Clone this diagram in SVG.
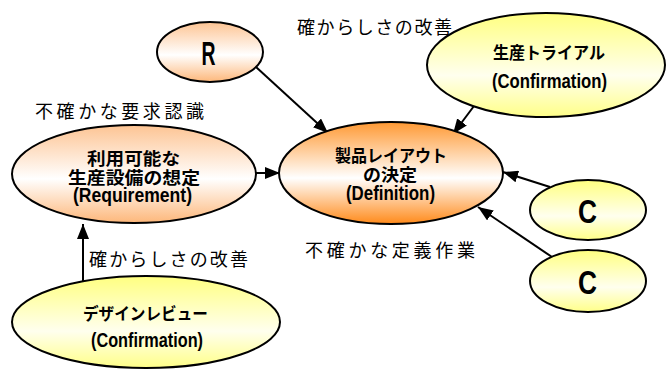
<svg xmlns="http://www.w3.org/2000/svg" width="667" height="369" viewBox="0 0 667 369">
<defs>
<linearGradient id="gOr" x1="0" y1="0" x2="0" y2="1">
<stop offset="0" stop-color="#fdc493"/>
<stop offset="0.55" stop-color="#ffffff"/>
<stop offset="1" stop-color="#fdb77a"/>
</linearGradient>
<linearGradient id="gOrS" x1="0" y1="0" x2="0" y2="1">
<stop offset="0" stop-color="#ff9933"/>
<stop offset="0.55" stop-color="#ffffff"/>
<stop offset="1" stop-color="#ff8a1a"/>
</linearGradient>
<linearGradient id="gYe" x1="0" y1="0" x2="0" y2="1">
<stop offset="0" stop-color="#ffff80"/>
<stop offset="0.6" stop-color="#ffffee"/>
<stop offset="1" stop-color="#ffff88"/>
</linearGradient>
<marker id="ah" markerUnits="userSpaceOnUse" markerWidth="15" markerHeight="12" refX="15" refY="6" orient="auto">
<path d="M0,0 L15,6 L0,12 z" fill="#000"/>
</marker>
<style>
ellipse{stroke:#000;stroke-width:2}
.n{font-family:"Noto Sans CJK JP","Liberation Sans",sans-serif;font-weight:bold;font-size:17px;fill:#000;text-anchor:middle}
.l{font-family:"Liberation Sans","Noto Sans CJK JP",sans-serif;font-weight:bold;font-size:20px;fill:#000;text-anchor:middle}
.big{font-family:"Liberation Sans",sans-serif;font-weight:bold;font-size:34px;fill:#000;text-anchor:middle}
.lab{font-family:"Noto Sans CJK JP",sans-serif;font-size:18px;fill:#000}
#edges line{stroke:#000;stroke-width:2;marker-end:url(#ah)}
</style>
</defs>

<g id="edges">
<line x1="256" y1="67" x2="328" y2="133"/>
<line x1="474" y1="106" x2="453" y2="134"/>
<line x1="256" y1="173" x2="280" y2="173"/>
<line x1="550" y1="187" x2="503" y2="172"/>
<line x1="552" y1="257" x2="478" y2="207"/>
<line x1="83" y1="281" x2="83" y2="224"/>
</g>

<g id="node-R">
<ellipse cx="210" cy="52" rx="53" ry="30" fill="url(#gOr)"/>
<text class="big" x="208.5" y="65" textLength="14" lengthAdjust="spacingAndGlyphs">R</text>
</g>

<g id="node-trial">
<ellipse cx="546" cy="65" rx="119" ry="52" fill="url(#gYe)"/>
<text class="n" x="549" y="59" textLength="112" lengthAdjust="spacingAndGlyphs">生産トライアル</text>
<text class="l" x="549.5" y="88" textLength="115" lengthAdjust="spacingAndGlyphs">(Confirmation)</text>
</g>

<g id="node-req">
<ellipse cx="134" cy="174" rx="122" ry="49" fill="url(#gOr)"/>
<text class="n" x="133.5" y="165" textLength="93" lengthAdjust="spacingAndGlyphs">利用可能な</text>
<text class="n" x="134" y="184" textLength="132" lengthAdjust="spacingAndGlyphs">生産設備の想定</text>
<text class="l" x="132.5" y="202" textLength="119" lengthAdjust="spacingAndGlyphs">(Requirement)</text>
</g>

<g id="node-def">
<ellipse cx="391" cy="173" rx="112" ry="51" fill="url(#gOrS)"/>
<text class="n" x="391" y="162" textLength="112" lengthAdjust="spacingAndGlyphs">製品レイアウト</text>
<text class="n" x="390" y="181" textLength="54" lengthAdjust="spacingAndGlyphs">の決定</text>
<text class="l" x="390.5" y="200" textLength="89" lengthAdjust="spacingAndGlyphs">(Definition)</text>
</g>

<g id="node-C1">
<ellipse cx="588" cy="210" rx="58" ry="30" fill="url(#gYe)"/>
<text class="big" x="587.5" y="223" textLength="19" lengthAdjust="spacingAndGlyphs">C</text>
</g>

<g id="node-C2">
<ellipse cx="588" cy="281" rx="58" ry="31" fill="url(#gYe)"/>
<text class="big" x="587.5" y="294" textLength="19" lengthAdjust="spacingAndGlyphs">C</text>
</g>

<g id="node-review">
<ellipse cx="146" cy="322" rx="134" ry="46" fill="url(#gYe)"/>
<text class="n" x="145.5" y="320" textLength="125" lengthAdjust="spacingAndGlyphs">デザインレビュー</text>
<text class="l" x="147" y="347" textLength="112" lengthAdjust="spacingAndGlyphs">(Confirmation)</text>
</g>

<g id="labels">
<text class="lab" x="297" y="34" textLength="155" lengthAdjust="spacing">確からしさの改善</text>
<text class="lab" x="35" y="118" textLength="169" lengthAdjust="spacing">不確かな要求認識</text>
<text class="lab" x="305" y="257" textLength="170" lengthAdjust="spacing">不確かな定義作業</text>
<text class="lab" x="89" y="266" textLength="159" lengthAdjust="spacing">確からしさの改善</text>
</g>
</svg>
